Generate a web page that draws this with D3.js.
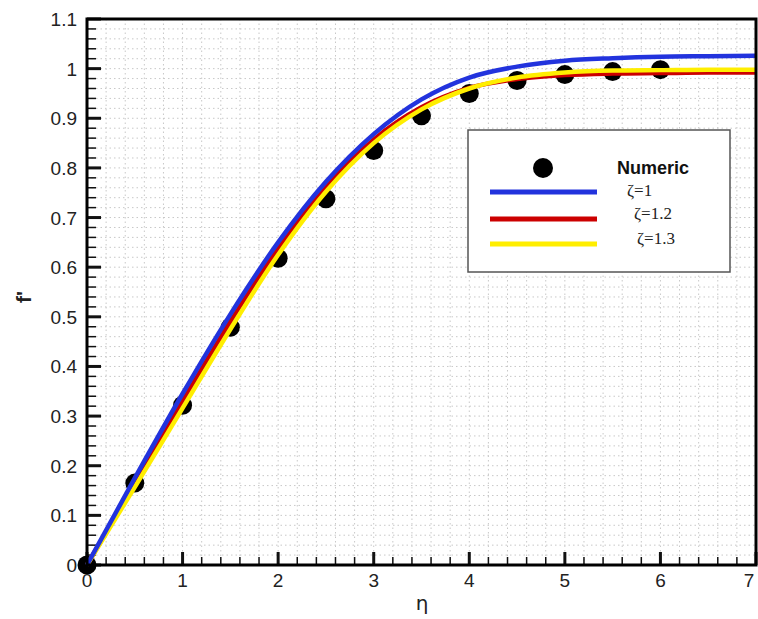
<!DOCTYPE html>
<html><head><meta charset="utf-8">
<script src="https://cdn.jsdelivr.net/npm/d3@7"></script>
<style>body{margin:0;background:#fff}svg{display:block}</style>
</head><body>
<svg id="c" width="758" height="619"></svg>
<script>
const etaLine = [0,0.5,1,1.5,2,2.5,3,3.5,4,4.5,5,5.5,6,6.5,7];
const zeta1   = [0,0.175,0.345,0.505,0.65,0.772,0.868,0.938,0.982,1.004,1.016,1.021,1.024,1.025,1.026];
const zeta12  = [0,0.165,0.33,0.49,0.638,0.762,0.857,0.922,0.961,0.979,0.987,0.990,0.991,0.992,0.992];
const zeta13  = [0,0.157,0.316,0.475,0.625,0.752,0.85,0.918,0.96,0.982,0.992,0.996,0.997,0.998,0.998];
const etaNum  = [0,0.5,1,1.5,2,2.5,3,3.5,4,4.5,5,5.5,6];
const numeric = [0,0.165,0.322,0.479,0.618,0.738,0.835,0.905,0.950,0.976,0.988,0.994,0.998];
const xTicks = [0,1,2,3,4,5,6,7];
const yTicks = [0,0.1,0.2,0.3,0.4,0.5,0.6,0.7,0.8,0.9,1,1.1];
const seriesNames = ["ζ=1","ζ=1.2","ζ=1.3"];
const seriesColors = ["#2233dd","#cc0000","#ffee00"];

const svg = d3.select("#c");
const L=87,R=756,T=19,B=565;
const x = d3.scaleLinear().domain([0,7]).range([L,R]);
const y = d3.scaleLinear().domain([0,1.1]).range([B,T]);

// grid
const gx = d3.range(0,7.0001,0.2), gy = d3.range(0,1.1001,0.02);
const grid = svg.append("g").attr("stroke","#c8c8c8").attr("stroke-width",1).attr("stroke-dasharray","1.5,3");
grid.selectAll(".vx").data(gx).join("line").attr("x1",d=>x(d)).attr("x2",d=>x(d)).attr("y1",T).attr("y2",B);
grid.selectAll(".hy").data(gy).join("line").attr("y1",d=>y(d)).attr("y2",d=>y(d)).attr("x1",L).attr("x2",R);

// ticks (inward)
const tk = svg.append("g").attr("stroke","#111");
tk.selectAll(".xm").data(d3.range(0,7.0001,0.2)).join("line")
  .attr("x1",d=>x(d)).attr("x2",d=>x(d)).attr("y1",B)
  .attr("y2",d=>Math.abs(d-Math.round(d))<1e-6? B-13 : B-8)
  .attr("stroke-width",d=>Math.abs(d-Math.round(d))<1e-6?3:1.5);
tk.selectAll(".ym").data(d3.range(0,1.1001,0.02)).join("line")
  .attr("y1",d=>y(d)).attr("y2",d=>y(d)).attr("x1",L)
  .attr("x2",d=>Math.abs(d*10-Math.round(d*10))<1e-6? L+14 : L+9)
  .attr("stroke-width",d=>Math.abs(d*10-Math.round(d*10))<1e-6?3:1.5);

// numeric dots
svg.append("g").selectAll("circle").data(etaNum).join("circle")
  .attr("cx",d=>x(d)).attr("cy",(d,i)=>y(numeric[i])).attr("r",9.5).attr("fill","#000");

// lines
const line = d3.line().x((d,i)=>x(etaLine[i])).y(d=>y(d)).curve(d3.curveMonotoneX);
[[zeta12,1],[zeta13,2],[zeta1,0]].forEach(([s,k])=>{
  svg.append("path").attr("d",line(s)).attr("fill","none")
    .attr("stroke",seriesColors[k]).attr("stroke-width",4.5);
});

// frame
svg.append("rect").attr("x",L).attr("y",T).attr("width",R-L).attr("height",B-T)
  .attr("fill","none").attr("stroke","#000").attr("stroke-width",3);

// tick labels
svg.append("g").selectAll("text").data(xTicks).join("text")
  .attr("x",d=>Math.min(x(d),749)).attr("y",B+22).attr("text-anchor","middle")
  .attr("font-family","Liberation Sans, Arial, sans-serif").attr("font-size",19).attr("fill","#222")
  .text(d=>d);
svg.append("g").selectAll("text").data(yTicks).join("text")
  .attr("x",L-10).attr("y",d=>y(d)+7).attr("text-anchor","end")
  .attr("font-family","Liberation Sans, Arial, sans-serif").attr("font-size",19).attr("fill","#222")
  .text(d=>d);

// axis titles
svg.append("text").attr("x",422).attr("y",610).attr("text-anchor","middle")
  .attr("font-family","DejaVu Sans, sans-serif").attr("font-size",20).attr("fill","#222").text("η");
svg.append("text").attr("transform","translate(31,297) rotate(-90)").attr("text-anchor","middle")
  .attr("font-family","Liberation Sans, Arial, sans-serif").attr("font-weight","bold").attr("font-size",21)
  .attr("fill","#222").text("f'");

// legend
const lg = svg.append("g");
lg.append("rect").attr("x",468).attr("y",130).attr("width",262).attr("height",142)
  .attr("fill","#fff").attr("stroke","#555").attr("stroke-width",1.5);
lg.append("circle").attr("cx",543).attr("cy",168).attr("r",10).attr("fill","#000");
lg.append("text").attr("x",617).attr("y",174).attr("font-family","Liberation Sans, Arial, sans-serif")
  .attr("font-weight","bold").attr("font-size",18).attr("fill","#111").text("Numeric");
const ly=[192,219,244], lx=[627,634,637], lty=[196,219,244];
seriesNames.forEach((n,i)=>{
  lg.append("line").attr("x1",490).attr("x2",597).attr("y1",ly[i]).attr("y2",ly[i])
    .attr("stroke",seriesColors[i]).attr("stroke-width",5);
  lg.append("text").attr("x",lx[i]).attr("y",lty[i]).attr("font-family","Liberation Serif, Times New Roman, serif")
    .attr("font-size",17).attr("fill","#222").text(n);
});
</script>
</body></html>
